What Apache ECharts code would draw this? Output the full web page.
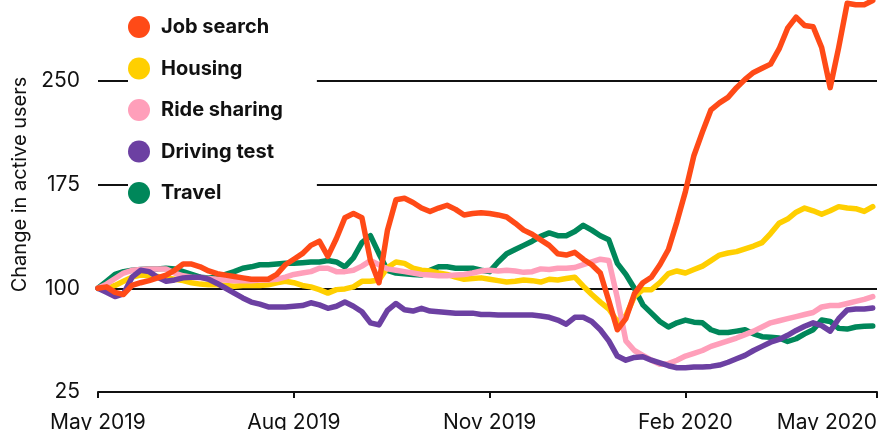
<!DOCTYPE html>
<html>
<head>
<meta charset="utf-8">
<script src="https://cdn.jsdelivr.net/npm/echarts@6/dist/echarts.min.js"></script>
<style>
    html, body { margin: 0; padding: 0; background: #fff; }
    #chart { width: 888px; height: 430px; }
</style>
</head>
<body>
<div id="chart"></div>
<script>
// samples every 4 days starting 1 May 2019
var startDate = '2019-05-01';
var stepDays = 4;

var xTickDates = ['2019-05-01', '2019-08-01', '2019-11-01', '2020-02-01', '2020-05-01'];
var xTickLabels = ['May 2019', 'Aug 2019', 'Nov 2019', 'Feb 2020', 'May 2020'];
var yTicks = [25, 100, 175, 250];

var seriesNames = ['Job search', 'Housing', 'Ride sharing', 'Driving test', 'Travel'];
var seriesColors = ['#ff4a17', '#ffcf00', '#ff9fba', '#6c40a2', '#00875a'];

var jobSearch = [
    100, 101, 97, 95.5, 102, 104, 105.5, 107.5, 109.5, 113,
    117.5, 117.5, 115.5, 112.5, 110.5, 109.5, 108.5, 107.5, 106.5, 106.5,
    106.5, 110, 117, 121, 125, 131, 134, 123, 136, 151,
    154, 151, 120, 104, 142, 164, 165, 162, 158, 155.5,
    158, 160, 157, 153, 154, 154.5, 154, 153, 151.5, 147,
    142, 139, 135, 131, 125, 124, 126, 121, 117, 111,
    91, 70, 78, 96, 104, 108, 117, 128, 148, 170,
    196, 213, 229, 234, 238, 245, 251, 256, 259, 262,
    273, 288, 296, 290, 289, 274, 245, 274, 306, 305,
    305, 308
];
var housing = [
    100, 100, 102, 105, 108, 109.5, 109, 108.5, 107.5, 106.5,
    105.5, 104, 103, 102.5, 102.5, 102, 101.5, 102, 102, 102,
    102.5, 104, 105, 104, 102, 101, 99, 96.5, 99, 99.5,
    101, 105, 105, 106, 115, 119, 118, 114.5, 113, 112.5,
    111, 110, 108, 106.5, 107, 107.5, 106.5, 105.5, 104.5, 105,
    106, 105.5, 104.5, 106.5, 106, 107, 108, 101.5, 95.5, 90,
    85, 76, 80, 94, 99, 99, 104, 110.5, 112.5, 111,
    113.5, 116, 120, 124, 125.5, 126.5, 128.5, 130.5, 133, 139.5,
    147, 150, 155, 158, 156, 153.5, 156, 159, 158, 157.5,
    155.5, 159
];
var rideSharing = [
    100, 103, 107, 111, 113, 113.5, 114, 114, 114, 111,
    109, 108, 107.5, 107, 106.5, 106, 105.5, 105.5, 105.5, 106,
    106, 106.5, 108, 110, 111, 112, 114.5, 114.5, 112, 112,
    113, 116, 120, 117, 114, 113, 112, 111, 110, 109.5,
    109, 109, 109.5, 110, 111, 112.5, 113, 112.5, 113, 112.5,
    111.5, 112, 114, 113.5, 114.5, 114.5, 115, 117, 119, 121,
    120, 93, 62, 55, 51.5, 48, 45, 45.5, 48, 51,
    53, 55, 58, 60, 62, 64, 66.5, 69, 72, 75,
    76.5, 78, 79.5, 81, 82.5, 86.5, 87.5, 87.5, 89, 90.5,
    92, 94
];
var drivingTest = [
    100, 97, 94, 96, 108, 113, 112, 108, 105, 106,
    107.5, 108, 108, 106.5, 103.5, 100, 96.5, 93, 90, 88.5,
    86.5, 86.5, 86.5, 87, 87.5, 89.5, 88, 85.5, 87, 90,
    87, 83, 75, 73.5, 84, 89, 84.5, 83.5, 85.5, 83.5,
    83, 82.5, 82, 82, 82, 81, 81, 80.7, 80.7, 80.7,
    80.7, 80.7, 80, 79, 77, 74, 79, 79, 76, 70,
    62, 51, 48, 50, 50.5, 48, 46, 44, 42.5, 42.5,
    43, 43, 43.5, 44.5, 46.5, 49, 51.5, 55, 58, 61,
    63, 66, 69.5, 72.5, 75, 73, 69, 78, 84.3, 85,
    85, 85.7
];
var travel = [
    100, 105, 110, 112, 113, 113.5, 114, 114, 114.5, 114,
    112, 110, 108, 107.5, 108, 110, 112, 114.5, 115.5, 117,
    117, 117.5, 118, 118, 118.5, 119, 119, 120, 119, 115.5,
    122, 133, 138, 125, 113, 111, 110.5, 110, 109.5, 113,
    115.5, 115.5, 114.5, 114.5, 114.5, 113, 112, 119, 125, 128,
    131, 134, 137.5, 140, 138, 138, 141, 145.5, 142, 138,
    135, 118, 110, 100, 88, 82, 76, 72, 75, 77,
    75.5, 75, 70, 68, 68, 69, 70, 67, 65, 64.5,
    64, 61.5, 63.5, 67, 70, 77, 76, 71, 70.5, 72,
    72.5, 72.7
];

function toTime(s) {
    var p = s.split('-');
    return new Date(+p[0], +p[1] - 1, +p[2]).getTime();
}

var start = toTime(startDate);
var sampleTimes = jobSearch.map(function (v, i) {
    var d = new Date(start);
    d.setDate(d.getDate() + stepDays * i);
    return d.getTime();
});
var tickTimes = xTickDates.map(toTime);

function pairs(values) {
    return values.map(function (v, i) { return [sampleTimes[i], v]; });
}

var allValues = [jobSearch, housing, rideSharing, drivingTest, travel];
// draw order: travel at the bottom, job search on top
var drawOrder = [4, 1, 2, 3, 0];

var series = drawOrder.map(function (idx) {
    return {
        name: seriesNames[idx],
        type: 'line',
        data: pairs(allValues[idx]),
        showSymbol: false,
        symbol: 'circle',
        color: seriesColors[idx],
        lineStyle: { width: 5.5, color: seriesColors[idx], cap: 'round', join: 'round' },
        clip: false
    };
});

var chart = echarts.init(document.getElementById('chart'));
chart.setOption({
    animation: false,
    backgroundColor: '#fff',
    textStyle: { fontFamily: 'Inter' },
    grid: {
        left: 98, right: 11, top: -23, bottom: 38,
        containLabel: false,
        outerBoundsMode: 'none'
    },
    legend: {
        data: seriesNames,
        orient: 'vertical',
        left: 128,
        top: 16,
        icon: 'circle',
        itemWidth: 22,
        itemHeight: 22,
        itemGap: 19.5,
        padding: [0, 34, 0, 0],
        backgroundColor: '#fff',
        selectedMode: false,
        textStyle: {
            fontFamily: 'Inter',
            fontWeight: 'bold',
            fontSize: 20,
            color: '#111',
            padding: [0, 0, 0, 6]
        }
    },
    xAxis: {
        type: 'value',
        min: tickTimes[0],
        max: tickTimes[tickTimes.length - 1],
        axisLine: { show: true, lineStyle: { color: '#111', width: 2 } },
        axisTick: {
            show: true,
            customValues: tickTimes,
            length: 6,
            lineStyle: { color: '#111', width: 2 }
        },
        axisLabel: {
            customValues: tickTimes,
            formatter: function (v) {
                var i = tickTimes.indexOf(v);
                return i >= 0 ? xTickLabels[i] : '';
            },
            alignMaxLabel: 'right',
            margin: 20,
            fontSize: 21,
            color: '#111',
            fontFamily: 'Inter'
        },
        splitLine: { show: false }
    },
    yAxis: {
        type: 'value',
        min: 25,
        max: 325,
        interval: 75,
        name: 'Change in active users',
        nameLocation: 'middle',
        nameGap: 68,
        nameRotate: 90,
        nameTextStyle: { fontSize: 20, color: '#111', fontFamily: 'Inter' },
        axisLine: { show: false },
        axisTick: { show: false },
        axisLabel: {
            margin: 18,
            fontSize: 21,
            color: '#111',
            fontFamily: 'Inter',
            formatter: function (v) { return yTicks.indexOf(v) >= 0 ? String(v) : ''; }
        },
        splitLine: { show: true, lineStyle: { color: '#111', width: 2 } }
    },
    series: series
});
</script>
</body>
</html>
